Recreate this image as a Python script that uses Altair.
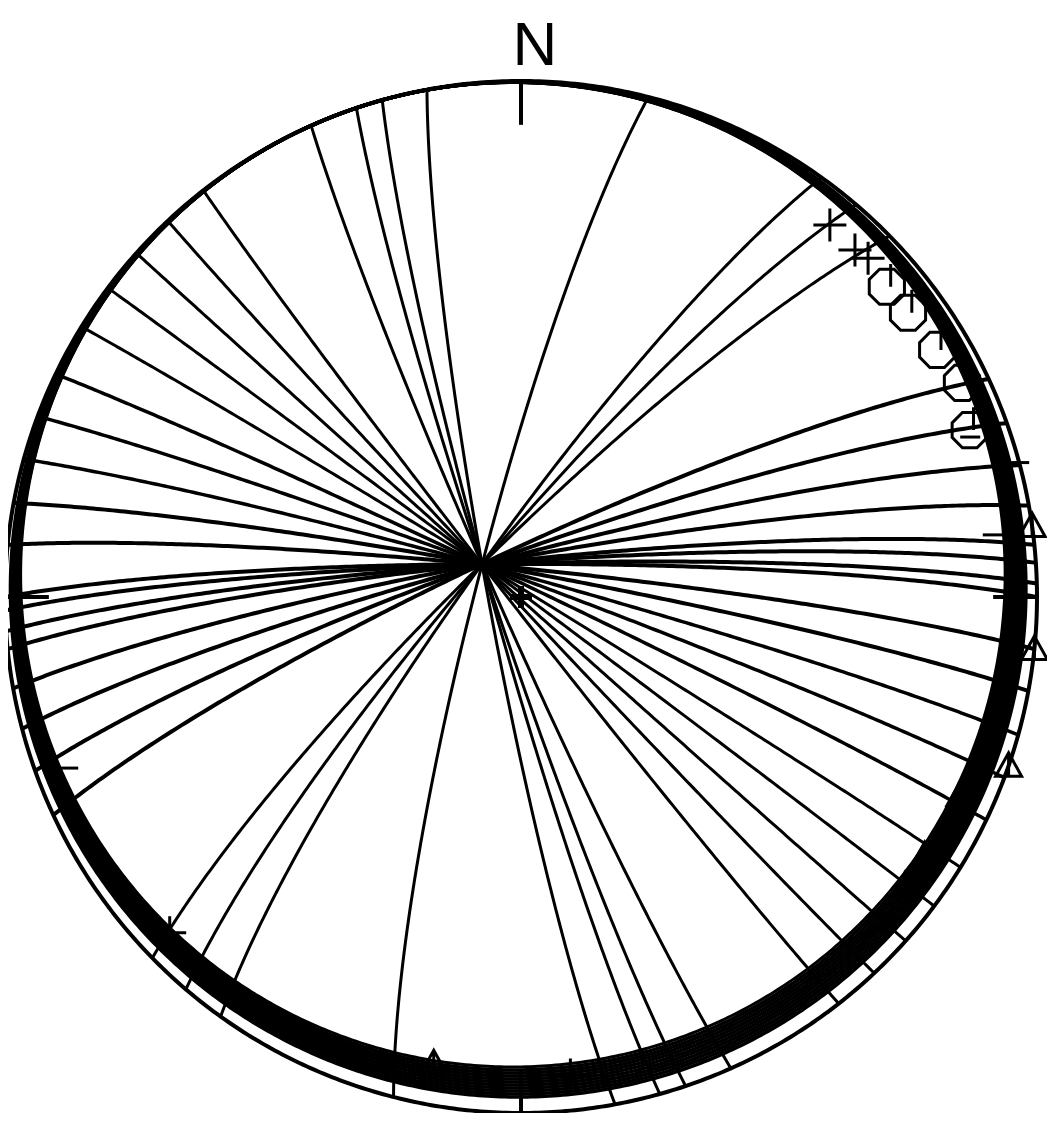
import numpy as np
import pandas as pd
import altair as alt

# ---- data ----
# great circles: right-hand-rule strike and dip (degrees)
gc_strike = [169.5, 164.4, 161.4, 156.0, 142.0, 136.8, 131.8, 306.8, 301.6, 295.6,
             290.5, 285.5, 280.5, 275.8, 268.5, 270.0, 264.2, 266.2, 259.8, 255.2,
             250.3, 245.0, 225.6, 220.5, 215.6, 194.3]
gc_dip = [84.9, 85.5, 85.8, 86.5, 88.3, 89.0, 89.7, 89.5, 88.8, 88.0,
          87.3, 86.7, 86.0, 85.5, 84.7, 84.8, 84.2, 84.4, 83.8, 83.5,
          83.1, 82.7, 82.0, 82.0, 82.0, 82.8]
gc_width = [3, 3, 3, 3, 3, 3, 3, 3, 3, 3.5,
            3.5, 3.5, 4, 4, 4, 4, 4, 4, 4, 4,
            4, 4, 3, 3, 3, 3]

# outline rings: offset (fraction of radius) toward azimuth 340
ring_offset = [0.0, 0.016, 0.019, 0.022, 0.025, 0.028, 0.031, 0.034, 0.037,
               0.040, 0.043, 0.046]
ring_width = [4, 3.5, 3.5, 3.5, 3.5, 3.5, 3.5, 3.5, 3.5, 3.5, 3.5, 3]
ring_azimuth = 340.0

# point symbols: trend / plunge
plus_trend = [39.7, 43.9, 45.7, 226.3, 174.1]
plus_plunge = [7.0, 7.4, 6.7, 6.5, 7.6]
oct_trend = [49.7, 53.7, 59.3, 64.1, 69.6]
oct_plunge = [7.8, 7.7, 6.9, 5.6, 8.0]
tri_trend = [82.1, 95.8, 109.1, 114.3, 122.6, 126.9, 190.6]
tri_plunge = [0.0, 0.0, 0.0, 7.4, 7.9, 7.7, 8.9]
minus_trend = [249.3, 82.5, 74.9, 70.4]
minus_plunge = [6.9, 8.6, 0.0, 8.4]
center_trend = [0.0]
center_plunge = [90.0]

tick_azimuth = [0, 90, 180, 270]
tick_inner = 0.915
label_text = ["N"]
label_azimuth = [0.0]


def project(trend, plunge):
    t = np.radians(np.asarray(trend, dtype=float))
    p = np.radians(np.asarray(plunge, dtype=float))
    rho = np.sqrt(2.0) * np.sin((np.pi / 2 - p) / 2)
    return rho * np.sin(t), rho * np.cos(t)


def great_circle(strike, dip, n=241):
    s = np.radians(strike)
    d = np.radians(dip)
    r = np.radians(np.linspace(0, 180, n))
    sv = np.array([np.sin(s), np.cos(s), 0.0])
    dd = s + np.pi / 2
    dv = np.array([np.cos(d) * np.sin(dd), np.cos(d) * np.cos(dd), -np.sin(d)])
    v = np.outer(np.cos(r), sv) + np.outer(np.sin(r), dv)
    plunge = np.degrees(np.arcsin(np.clip(-v[:, 2], -1, 1)))
    trend = np.degrees(np.arctan2(v[:, 0], v[:, 1]))
    return project(trend, plunge)


rows = []
th = np.radians(np.linspace(0, 360, 721))
phi = np.radians(ring_azimuth)
for i, (e, w) in enumerate(zip(ring_offset, ring_width)):
    cx, cy = e * np.sin(phi), e * np.cos(phi)
    rad = 1.0 - e
    xs = cx + rad * np.sin(th)
    ys = cy + rad * np.cos(th)
    for k, (a, b) in enumerate(zip(xs, ys)):
        rows.append(dict(id=f"ring{i:02d}", ord=k, x=a, y=b, w=w))
for i, (s, d, w) in enumerate(zip(gc_strike, gc_dip, gc_width)):
    xs, ys = great_circle(s, d)
    for k, (a, b) in enumerate(zip(xs, ys)):
        rows.append(dict(id=f"gc{i:02d}", ord=k, x=a, y=b, w=w))
lines = pd.DataFrame(rows)

ta = np.radians(tick_azimuth)
ticks = pd.DataFrame(dict(x=np.sin(ta), y=np.cos(ta),
                          x2=tick_inner * np.sin(ta), y2=tick_inner * np.cos(ta)))


def pts(tr, pl):
    x, y = project(tr, pl)
    return pd.DataFrame(dict(x=x, y=y))


la = np.radians(label_azimuth)
labels = pd.DataFrame(dict(x=np.sin(la), y=np.cos(la), t=label_text))

xs_ = alt.Scale(domain=[-0.99419, 1.01938], nice=False, zero=False)
ys_ = alt.Scale(domain=[-1.0, 1.14147], nice=False, zero=False)
X = alt.X("x:Q", scale=xs_, axis=None)
Y = alt.Y("y:Q", scale=ys_, axis=None)

line_layer = alt.Chart(lines).mark_line(color="black").encode(
    x=X, y=Y, detail="id:N", order="ord:Q",
    strokeWidth=alt.StrokeWidth("w:Q", scale=None))

tick_layer = alt.Chart(ticks).mark_rule(color="black", strokeWidth=4).encode(
    x=X, y=Y, x2="x2:Q", y2="y2:Q")

OCT = ("M-0.383,-0.924L0.383,-0.924L0.924,-0.383L0.924,0.383L0.383,0.924"
       "L-0.383,0.924L-0.924,0.383L-0.924,-0.383Z M0.2,-1.2L0.2,0")
TRI = "M0,-1L1,0.8L-1,0.8Z M0,-1L0,0.8"
PLUS = "M-1,0L1,0M0,-1L0,1"
MINUS = "M-1,0L1,0"


def sym(df, shape, size, sw=3):
    return alt.Chart(df).mark_point(shape=shape, size=size, filled=False,
                                    color="black", strokeWidth=sw, opacity=1).encode(x=X, y=Y)


layers = [
    line_layer,
    tick_layer,
    sym(pts(plus_trend, plus_plunge), PLUS, 1089),
    sym(pts(oct_trend, oct_plunge), OCT, 1450),
    sym(pts(tri_trend, tri_plunge), TRI, 676),
    sym(pts(minus_trend, minus_plunge), MINUS, 400),
    sym(pts(center_trend, center_plunge), PLUS, 484, sw=6),
    alt.Chart(labels).mark_text(fontSize=62, font="Liberation Sans", color="black",
                                align="center", baseline="alphabetic", dx=14, dy=-16).encode(
        x=X, y=Y, text="t:N"),
]

chart = alt.layer(*layers).properties(
    width=1039, height=1105,
    autosize=alt.AutoSizeParams(type="none"),
    padding=0,
).configure(background="white").configure_view(stroke=None)

chart.save("out.html", embed_options={"renderer": "svg", "actions": False})
